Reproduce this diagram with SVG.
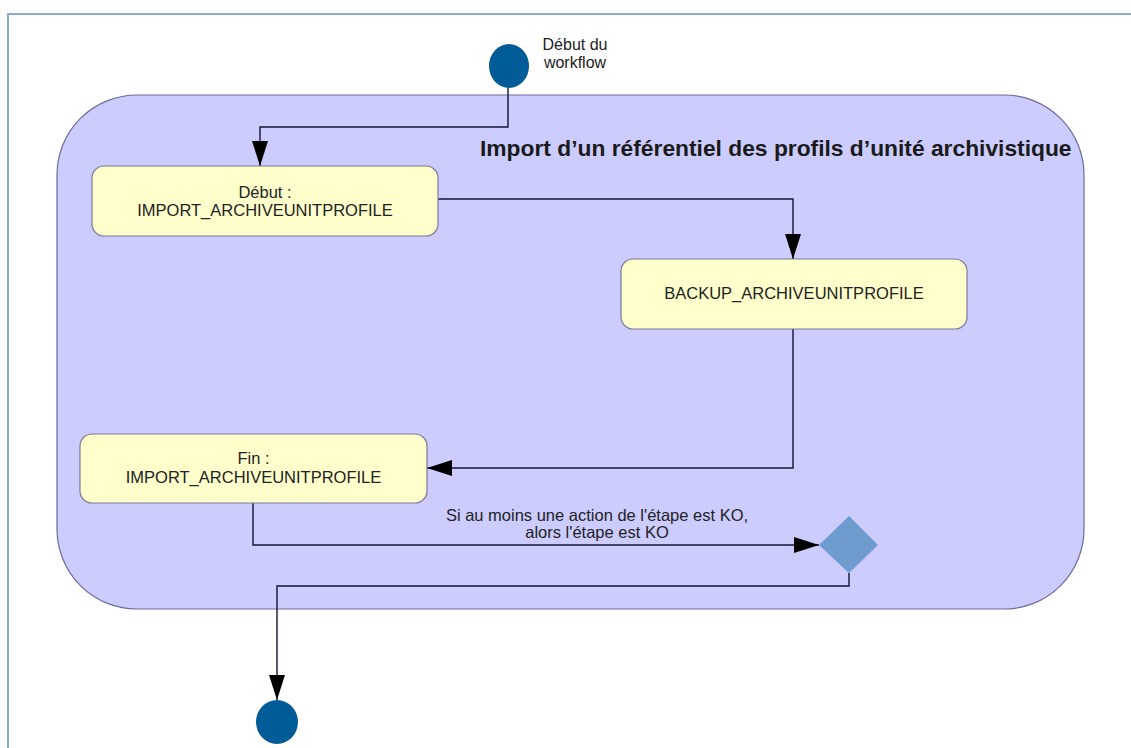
<svg xmlns="http://www.w3.org/2000/svg" width="1131" height="748" viewBox="0 0 1131 748">
  <defs>
    <marker id="arrow" markerUnits="userSpaceOnUse" markerWidth="26" markerHeight="18" refX="25" refY="8" orient="auto">
      <path d="M0,0 L25,8 L0,16 z" fill="#000"/>
    </marker>
    <style>
      .frame { stroke: #8eaadb; stroke-width: 2; fill: none; }
      .container { fill: #ccccff; stroke: #6b6b9a; stroke-width: 1.2; }
      .box { fill: #ffffcc; stroke: #7a7a96; stroke-width: 1.2; }
      .term { fill: #005b96; }
      .decision { fill: #6e9ccf; }
      .conn { fill: none; stroke: #141432; stroke-width: 1.4; marker-end: url(#arrow); }
      .lbl { font-family: "Liberation Sans", Arial, sans-serif; font-size: 16.5px; fill: #222; text-anchor: middle; }
      .title { font-family: "Liberation Sans", Arial, sans-serif; font-size: 22.8px; font-weight: bold; fill: #1a1a1a; }
    </style>
  </defs>

  <rect width="1131" height="748" fill="#ffffff"/>
  <path class="frame" d="M8,748 V14 H1131"/>

  <g id="container">
    <rect class="container" x="57" y="95" width="1027" height="514" rx="80" ry="80"/>
    <text class="title" x="480" y="156">Import d’un référentiel des profils d’unité archivistique</text>
  </g>

  <g id="connectors">
    <path class="conn" d="M508,88 V127 H260 V166"/>
    <path class="conn" d="M438,199 H793 V259"/>
    <path class="conn" d="M793,329 V468 H427"/>
    <path class="conn" d="M253,503 V545 H819"/>
    <path class="conn" d="M849,573 V586 H277 V700"/>
    <text class="lbl" x="597" y="521">Si au moins une action de l'étape est KO,</text>
    <text class="lbl" x="597" y="538">alors l'étape est KO</text>
  </g>

  <g id="start">
    <ellipse class="term" cx="509" cy="66" rx="20" ry="22"/>
    <text class="lbl" x="575" y="50" style="font-size:16px">Début du</text>
    <text class="lbl" x="575" y="68" style="font-size:16px">workflow</text>
  </g>

  <g id="debut">
    <rect class="box" x="92" y="166" width="346" height="70" rx="12" ry="12"/>
    <text class="lbl" x="265" y="198">Début :</text>
    <text class="lbl" x="265" y="216">IMPORT_ARCHIVEUNITPROFILE</text>
  </g>

  <g id="backup">
    <rect class="box" x="621" y="259" width="346" height="70" rx="12" ry="12"/>
    <text class="lbl" x="794" y="299">BACKUP_ARCHIVEUNITPROFILE</text>
  </g>

  <g id="fin">
    <rect class="box" x="80" y="434" width="347" height="69" rx="12" ry="12"/>
    <text class="lbl" x="253.5" y="464">Fin :</text>
    <text class="lbl" x="253.5" y="483">IMPORT_ARCHIVEUNITPROFILE</text>
  </g>

  <g id="decision">
    <polygon class="decision" points="819,545 849,516 878,545 849,573"/>
  </g>

  <g id="end">
    <ellipse class="term" cx="277" cy="722" rx="21" ry="22"/>
  </g>
</svg>
